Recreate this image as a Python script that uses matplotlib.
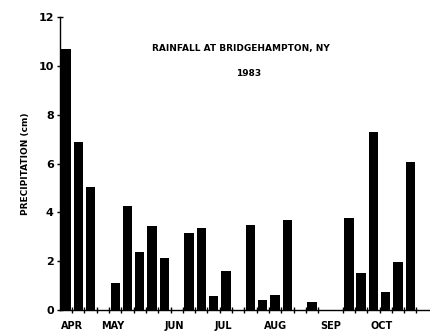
import numpy as np
import matplotlib
matplotlib.use("Agg")
import matplotlib.pyplot as plt

# weekly rainfall, Apr-Oct 1983 (0 = no bar)
weeks = np.arange(29)
rain_cm = [10.7, 6.9, 5.05, 0, 1.12, 4.26, 2.36, 3.46, 2.12,
           0, 3.16, 3.38, 0.57, 1.62, 0, 3.47, 0.42, 0.6, 3.7,
           0, 0.34, 0, 0, 3.78, 1.5, 7.3, 0.72, 1.97, 6.07]

months = ["APR", "MAY", "JUN", "JUL", "AUG", "SEP", "OCT"]
month_pos = [0.45, 3.8, 8.8, 12.8, 17.0, 21.5, 25.7]

plt.rcParams["font.family"] = "DejaVu Sans"
plt.rcParams["font.weight"] = "bold"

fig = plt.figure(figsize=(4.3, 3.35), dpi=100)
ax = fig.add_axes([0.1395, 0.0746, 0.8605, 0.8734])

heights = np.array(rain_cm)
mask = heights > 0
ax.bar(weeks[mask], heights[mask], width=0.76, color="black")

ax.set_xlim(-0.49, 29.6)
ax.set_ylim(0, 12)
ax.set_yticks([0, 2, 4, 6, 8, 10, 12])
ax.tick_params(axis="y", direction="inout", length=5, width=1, labelsize=8, pad=2)

ax.set_xticks(month_pos, months)
ax.set_xticks(np.arange(0.5, 29.5, 1.0), minor=True)
ax.tick_params(axis="x", which="major", length=0, labelsize=7, pad=8)
ax.tick_params(axis="x", which="minor", direction="inout", length=4, width=1)

for s in ["top", "right"]:
    ax.spines[s].set_visible(False)
ax.spines["left"].set_linewidth(1)
ax.spines["bottom"].set_linewidth(1)

ax.set_ylabel("PRECIPITATION (cm)", fontsize=6.5, fontweight="bold", labelpad=6)

ax.text(0.49, 0.895, "RAINFALL AT BRIDGEHAMPTON, NY", transform=ax.transAxes,
        ha="center", va="center", fontsize=6.5, fontweight="bold")
ax.text(0.51, 0.81, "1983", transform=ax.transAxes,
        ha="center", va="center", fontsize=6.5, fontweight="bold")

fig.savefig("out.png", dpi=100, facecolor="white")
